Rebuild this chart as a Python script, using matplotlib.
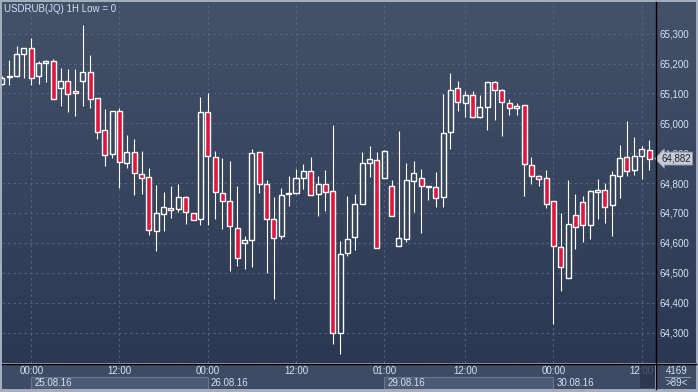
'''
USDRUB hourly candlestick chart,
dark terminal style
'''

import numpy as np
import matplotlib
matplotlib.use("Agg")
import matplotlib.pyplot as plt
from matplotlib.patches import Rectangle
from matplotlib.lines import Line2D
from matplotlib.colors import LinearSegmentedColormap
from matplotlib.transforms import blended_transform_factory

# hourly bars, 24.08.16 20:00 -> 30.08.16 13:00
open_ = [65130, 65154, 65158, 65233, 65253, 65157, 65203, 65210, 65117, 65143,
         65109, 65143, 65173, 65083, 64977, 64897, 65040, 64867, 64903, 64829,
         64820, 64640, 64697, 64717, 64713, 64753, 64700, 64680, 65037, 64887,
         64767, 64740, 64650, 64600, 64610, 64903, 64797, 64680, 64623, 64763,
         64767, 64817, 64840, 64763, 64797, 64773, 64297, 64567, 64620, 64730,
         64867, 64877, 64817, 64790, 64590, 64613, 64807, 64817, 64787, 64787,
         64753, 64970, 65117, 65067, 65093, 65020, 65053, 65137, 65112, 65069,
         65050, 65061, 64860, 64823, 64817, 64740, 64587, 64483, 64693, 64737,
         64660, 64770, 64777, 64727, 64823, 64887, 64843, 64890, 64910]
high = [65158, 65211, 65258, 65253, 65284, 65208, 65212, 65214, 65184, 65181,
        65181, 65328, 65228, 65083, 65048, 65040, 65050, 64960, 64947, 64906,
        64850, 64794, 64769, 64791, 64798, 64758, 64700, 65087, 65100, 64907,
        64883, 64873, 64791, 64623, 64913, 64903, 64810, 64753, 64783, 64823,
        64847, 64863, 64887, 64823, 64843, 64993, 64607, 64758, 64763, 64903,
        64923, 64903, 64910, 64810, 64974, 64867, 64873, 64847, 64789, 64837,
        65097, 65167, 65143, 65107, 65107, 65093, 65137, 65140, 65116, 65081,
        65067, 65061, 64887, 64827, 64843, 64740, 64700, 64810, 64763, 64757,
        64777, 64813, 64800, 64840, 64927, 65007, 64953, 64923, 64943]
low = [65128, 65128, 65154, 65152, 65128, 65131, 65139, 65080, 65059, 65039,
       65026, 65059, 65052, 64946, 64856, 64883, 64782, 64852, 64759, 64762,
       64626, 64572, 64639, 64682, 64703, 64662, 64677, 64659, 64659, 64679,
       64646, 64506, 64522, 64513, 64519, 64767, 64499, 64413, 64613, 64723,
       64763, 64780, 64760, 64690, 64707, 64263, 64230, 64557, 64577, 64730,
       64820, 64583, 64817, 64690, 64590, 64603, 64703, 64633, 64743, 64720,
       64720, 64913, 65040, 65020, 65017, 65017, 64977, 65010, 64956, 65029,
       65028, 64756, 64797, 64790, 64717, 64330, 64440, 64483, 64580, 64603,
       64613, 64680, 64667, 64623, 64750, 64823, 64827, 64813, 64843]
close = [65153, 65156, 65233, 65253, 65153, 65203, 65210, 65080, 65143, 65097,
         65103, 65170, 65080, 64970, 64893, 65040, 64870, 64903, 64833, 64817,
         64643, 64700, 64719, 64710, 64753, 64703, 64677, 65037, 64890, 64770,
         64740, 64657, 64550, 64610, 64900, 64797, 64680, 64617, 64760, 64764,
         64817, 64840, 64760, 64797, 64770, 64297, 64563, 64613, 64730, 64867,
         64880, 64583, 64907, 64690, 64617, 64810, 64833, 64790, 64789, 64750,
         64967, 65113, 65070, 65093, 65020, 65053, 65137, 65110, 65070, 65050,
         65057, 64863, 64823, 64813, 64730, 64590, 64520, 64663, 64653, 64660,
         64773, 64777, 64720, 64827, 64883, 64840, 64890, 64913, 64882]

time_ticks = [4, 16, 28, 40, 52, 63, 75, 87]
time_labels = ["00:00", "12:00", "00:00", "12:00", "01:00", "12:00", "00:00", "12:00"]
date_starts = [4, 28, 52, 75]
date_labels = ["25.08.16", "26.08.16", "29.08.16", "30.08.16"]
price_ticks = list(range(64300, 65301, 100))
last_price = 64882
title = "USDRUB(JQ) 1H Low = 0"

W, H = 698, 392
txt = "#d6e1f3"
plt.rcParams['font.family'] = ['Liberation Sans', 'DejaVu Sans']


def fx(px):
  return px / W


def fy(py):
  return 1 - py / H


fig = plt.figure(figsize=(6.98, 3.92), dpi=100, facecolor="#a3adbd")

# gradient behind chart and price scale
bg = fig.add_axes([fx(2), fy(363), 694 / W, 361 / H])
grad = LinearSegmentedColormap.from_list("g", ["#435169", "#2b3853"])
bg.imshow(np.linspace(0, 1, 256).reshape(-1, 1), cmap=grad, aspect="auto",
          extent=[0, 1, 0, 1])
bg.axis("off")

# main chart
ax = fig.add_axes([fx(2), fy(363), 653 / W, 361 / H])
ax.set_facecolor("none")
x0, step = 1.8, 7.355
ax.set_xlim((2 - x0) / step, (655 - x0) / step)
ax.set_ylim(65000 + (123.3 - 363) / 0.299, 65000 + (123.3 - 2) / 0.299)
for s in ax.spines.values():
  s.set_visible(False)

ax.set_xticks(time_ticks)
ax.set_yticks(price_ticks)
ax.set_yticklabels([f"{p:,}" for p in price_ticks])
ax.yaxis.tick_right()
ax.tick_params(axis="x", length=0, labelbottom=False)
ax.tick_params(axis="y", length=0, pad=3, labelsize=7, labelcolor=txt)
ax.grid(True, color="#586580", linestyle=(0, (2, 3)), linewidth=0.8)
ax.set_axisbelow(True)

o = np.array(open_)
c = np.array(close)
idx = np.arange(len(c))
top = np.maximum(o, c)
bot = np.minimum(o, c)
up = c >= o
ax.vlines(idx, top, high, color="white", lw=0.8, zorder=2)
ax.vlines(idx, low, bot, color="white", lw=0.8, zorder=2)
hgt = np.maximum(top - bot, 3)
ax.bar(idx[up], hgt[up], bottom=bot[up], width=0.68, facecolor="none",
       edgecolor="white", linewidth=1.0, zorder=3)
ax.bar(idx[~up], hgt[~up], bottom=bot[~up], width=0.68, facecolor="#e0163c",
       edgecolor="white", linewidth=1.0, zorder=3)

ax.text(2 / 653, 0.995, title, transform=ax.transAxes, ha="left", va="top",
        fontsize=7, color=txt)

# last price tag
tr = blended_transform_factory(ax.transAxes, ax.transData)
ax.text(1.010, last_price, f"{last_price:,}", transform=tr, ha="left",
        va="center", fontsize=7, color="#1b2130", clip_on=False, zorder=6,
        bbox=dict(boxstyle="larrow,pad=0.15", fc="#c8ccd4", ec="#8d95a5", lw=0.6))

# time / date strip
axb = fig.add_axes([fx(2), fy(389), 653 / W, 25 / H])
axb.set_xlim(ax.get_xlim())
axb.set_ylim(25, 0)
axb.set_facecolor("#3e4b64")
axb.set_xticks([])
axb.set_yticks([])
for s in axb.spines.values():
  s.set_visible(False)

for t, lab in zip(time_ticks, time_labels):
  axb.text(t, 6.7, lab, ha="center", va="center", fontsize=7, color=txt)

xr = ax.get_xlim()[1]
for k, (d0, lab) in enumerate(zip(date_starts, date_labels)):
  d1 = date_starts[k + 1] if k + 1 < len(date_starts) else xr
  if k % 2 == 0:
    axb.add_patch(Rectangle((d0, 13), d1 - d0, 13, fc="#4d5a74",
                            ec="#6b7791", lw=0.8))
  axb.text(d0 + 0.4, 18.5, lab, ha="left", va="center", fontsize=7, color=txt)

# scroll thumb
fig.add_artist(Rectangle((fx(640), fy(388)), 15 / W, 24 / H,
                         transform=fig.transFigure, fc="#26314a", alpha=0.75))

# bar count box
axc = fig.add_axes([fx(656), fy(389), 40 / W, 25 / H])
axc.set_xlim(0, 40)
axc.set_ylim(25, 0)
axc.set_facecolor("#3e4b64")
axc.set_xticks([])
axc.set_yticks([])
for s in axc.spines.values():
  s.set_visible(False)
axc.text(21, 6.5, "4169", ha="center", va="center", fontsize=7, color=txt)
axc.plot([9, 34], [13, 13], color="#8a95aa", lw=0.8)
axc.text(21, 19, f">{len(c)}<", ha="center", va="center", fontsize=7, color=txt)

# black frame lines
fig.add_artist(Line2D([fx(655.5)] * 2, [fy(2), fy(389)], color="black", lw=1))
fig.add_artist(Line2D([fx(2), fx(696)], [fy(363.5)] * 2, color="black", lw=1))

fig.savefig("out.png", dpi=100, facecolor=fig.get_facecolor())
